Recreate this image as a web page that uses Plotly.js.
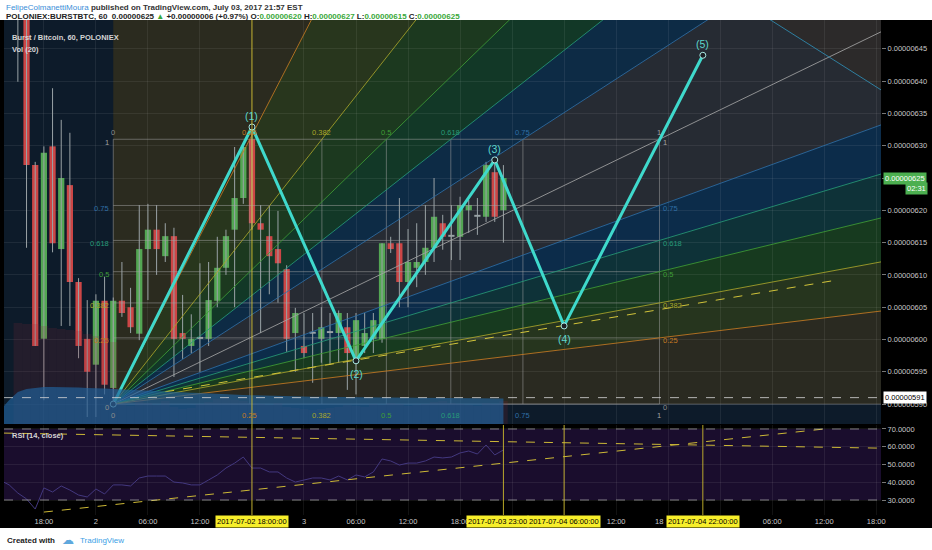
<!DOCTYPE html>
<html>
<head>
<meta charset="utf-8">
<script src="https://cdn.plot.ly/plotly-3.0.1.min.js"></script>
<style>
  html, body { margin: 0; padding: 0; background: #ffffff; }
  #chart { width: 932px; height: 550px; }
</style>
</head>
<body>
<div id="chart"></div>
<script>
// POLONIEX:BURSTBTC, 60 min candles. Prices in satoshi (1e-8 BTC).
// Time is in hours counted from 2017-07-01 00:00.
var firstHour = 15;
var open  = [658, 655, 627.0, 600.1, 629.9, 614.0, 623.9, 608.9, 600.1, 596.1, 606.0, 592.5,
             606.0, 605.0, 600.9, 614.0, 617.0, 612.9, 616.0, 601.0, 599.0, 600.1, 600.1, 606.0,
             611.1, 617.0, 621.9, 631.0, 618.0, 616.0, 614.0, 610.9, 601.0, 599.0, 601.0, 600.1,
             601.0, 601.0, 601.9, 597.1, 599.0, 600.1, 600.1, 614.9, 614.9, 608.9, 611.1, 612.0,
             614.2, 618.0, 615.9, 615.9, 620.0, 619.0, 619.0, 625.9, 620];
var high  = [662, 658, 627.5, 629.9, 638.9, 634.0, 632.0, 609.5, 606.1, 607.0, 609.7, 606.5,
             612.0, 608.0, 620.8, 621.0, 620.8, 618.0, 617.3, 606.9, 603.9, 611.8, 612.0, 615.9,
             617.0, 629.8, 630.2, 632.9, 620.8, 620.7, 619.9, 611.5, 604.9, 604.1, 604.1, 605.0,
             604.1, 604.5, 604.1, 604.1, 604.1, 604.1, 614.9, 615.9, 621.9, 617.1, 618.0, 620.8,
             625.0, 619.3, 620.8, 622.1, 621.6, 621.9, 627.5, 627.8, 627];
var low   = [639.9, 614.2, 599.0, 590.6, 613.5, 602.1, 602.1, 597.1, 588.0, 588.0, 591.5, 590.0,
             603.5, 601.0, 599.9, 606.1, 610.0, 612.0, 594.2, 597.0, 597.9, 595.0, 599.0, 605.0,
             610.0, 605.0, 621.0, 617.0, 601.0, 607.0, 605.7, 598.1, 595.0, 597.1, 593.3, 596.4,
             596.1, 596.4, 592.2, 591.5, 597.9, 597.9, 599.5, 613.4, 605.0, 605.0, 608.1, 610.0,
             612.0, 613.9, 612.3, 612.3, 616.5, 616.2, 618.2, 618.2, 615];
var close = [652, 627.0, 599.0, 628.9, 614.9, 625.0, 608.9, 599.0, 595.0, 606.0, 593.0, 606.0,
             604.1, 601.9, 614.0, 617.0, 614.0, 616.0, 600.1, 600.1, 600.1, 600.3, 606.1, 611.1,
             616.0, 621.9, 629.8, 618.0, 617.0, 612.9, 611.8, 600.1, 604.1, 597.9, 600.9, 601.9,
             601.1, 604.1, 597.9, 603.0, 601.0, 603.0, 614.9, 614.0, 608.9, 612.0, 612.0, 614.2,
             619.0, 615.9, 616.0, 620.8, 620.8, 619.1, 627.0, 619.0, 625];
var volume = [1010, 1000, 1000, 980, 960, 950, 940, 930, 900, 880, 860, 820,
              200, 180, 240, 210, 190, 230, 170, 150, 160, 200, 220, 250, 260, 240, 230, 210,
              200, 190, 210, 170, 160, 150, 140, 150, 160, 170, 190, 180, 170, 200, 190, 210,
              200, 180, 190, 200, 220, 230, 210, 200, 190, 180, 210, 200, 230];

// Vol (20) average and RSI (14, close) start two hours earlier than the first candle shown
var indicatorFirstHour = 13;
var volumeMA = [140, 240, 320, 350, 360, 370, 370, 370, 370, 365, 360, 360, 355, 350, 345, 340,
                335, 330, 325, 320, 318, 315, 312, 310, 305, 300, 298, 295, 290, 288, 285, 283,
                280, 278, 276, 275, 273, 272, 270, 270, 268, 268, 266, 265, 265, 264, 263, 262,
                262, 261, 260, 260, 260, 260, 259, 258, 258, 257, 256];
var rsi = [41, 38.5, 33.9, 30.6, 24.9, 36.8, 34.5, 37.9, 35.6, 32.8, 31.7, 36.2, 33.4, 38.5, 38.5,
           37.9, 42.4, 43.5, 43.5, 43.5, 40.1, 39.6, 38.5, 38.5, 41.3, 44.1, 48.0, 50.8, 54.2, 48.0,
           48.0, 45.8, 45.8, 42.4, 40.1, 41.3, 42.4, 42.4, 41.3, 43.5, 41.3, 44.1, 43.0, 45.8, 53.1,
           52.0, 49.7, 50.8, 50.8, 52.0, 54.2, 53.7, 54.2, 56.5, 57.6, 55.9, 61.0, 55.4, 58.2];

// time axis (labels hidden behind the yellow date boxes are left empty)
var tickHours  = [18, 24, 30, 36, 42, 48, 54, 60, 66, 72, 78, 84, 90, 96, 102, 108, 114];
var tickLabels = ['18:00', '2', '06:00', '12:00', '', '3', '06:00', '12:00', '18:00',
                  '', '', '12:00', '', '', '06:00', '12:00', '18:00'];
var cutTickHour = 90, cutTickLabel = '18';
var priceTicks = [590, 595, 600, 605, 610, 615, 620, 625, 630, 635, 640, 645];
var rsiTicks = [30, 40, 50, 60, 70];

// drawings
var boxHours  = [26, 89];
var boxPrices = [590, 631];
var fibLevels = [0, 0.25, 0.382, 0.5, 0.618, 0.75, 1];
var waveHours  = [26, 42, 54, 70, 78, 94];
var wavePrices = [590, 632.9, 596.7, 627.8, 602.1, 644.0];
var waveLabels = ['', '(1)', '(2)', '(3)', '(4)', '(5)'];
var trendHours = [32, 109];
var trendPrices = [591.9, 609.1];
var fanHours = [100, 114.6];
var fanPrices = [651, 638.6];
var supportPrice = 591;
var rsiTrendAHours = [13.4, 114.6];
var rsiTrendA = [67.7, 59.2];
var rsiTrendBHours = [18, 108];
var rsiTrendB = [23.2, 70];
var markHours  = [42, 71, 78, 94];
var markLabels = ['2017-07-02 18:00:00', '2017-07-03 23:00', '2017-07-04 06:00:00', '2017-07-04 22:00:00'];

var FONT = 'Liberation Sans, Arial, sans-serif';
var UP = '#53a653', DOWN = '#cc4646', WICK = '#9aa3a6';
var levelColor = {'0': '#8d8d8d', '0.25': '#c77b22', '0.382': '#a9a62a', '0.5': '#3f9d36',
                  '0.618': '#279a78', '0.75': '#2f6ea6', '1': '#a3a3a3'};

function fmt(v) { return (v / 1e8).toFixed(8); }

var hours = open.map(function (_, i) { return firstHour + i; });
var indHours = rsi.map(function (_, i) { return indicatorFirstHour + i; });
var n = close.length, last = close[n - 1], prev = close[n - 2];

// wicks
var wx = [], wy = [];
hours.forEach(function (h, i) { wx.push(h, h, null); wy.push(low[i], high[i], null); });

var bodyBase = [], bodyLen = [], bodyColor = [];
hours.forEach(function (h, i) {
  var d = close[i] - open[i];
  bodyBase.push(Math.min(open[i], close[i]));
  bodyLen.push(Math.max(Math.abs(d), 0.3));
  bodyColor.push(Math.abs(d) < 0.3 ? WICK : (d > 0 ? UP : DOWN));
});

// gann fan
var h0 = boxHours[0], h1 = boxHours[1], p0 = boxPrices[0], p1 = boxPrices[1];
var W = h1 - h0, H = p1 - p0, K = 20;
var rayLevels = fibLevels.concat(fibLevels.slice(0, -1).reverse());
var rays = fibLevels.map(function (t) { return [h0 + K * t * W, p0 + K * H]; })
  .concat(fibLevels.slice(0, -1).reverse().map(function (l) { return [h0 + K * W, p0 + K * l * H]; }));
var wedgeColors = ['#2b2b1f', '#28361d', '#1c391f', '#123827', '#0d2b45', '#262b33',
                   '#262b33', '#0c2c4a', '#0e3238', '#173a1f', '#26351e', '#2a2a21'];

var shapes = [
  {type: 'rect', xref: 'paper', yref: 'paper', x0: -4 / 877, x1: 928 / 877, y0: -13 / 495, y1: 1,
   fillcolor: '#000000', line: {width: 0}, layer: 'below'},
  {type: 'rect', xref: 'paper', yref: 'paper', x0: 0, x1: 1, y0: 91 / 495, y1: 1,
   fillcolor: '#0d1b2a', line: {width: 0}, layer: 'below'},
  {type: 'rect', xref: 'paper', yref: 'y2', x0: 0, x1: 1, y0: 30, y1: 70,
   fillcolor: '#1a0d2d', line: {width: 0}, layer: 'below'}
];
for (var i = 0; i < rays.length - 1; i++) {
  shapes.push({type: 'path', xref: 'x', yref: 'y', layer: 'below', fillcolor: wedgeColors[i],
    line: {width: 0},
    path: 'M' + h0 + ',' + p0 + 'L' + rays[i][0] + ',' + rays[i][1] + 'L' + rays[i + 1][0] + ',' + rays[i + 1][1] + 'Z'});
}
// area beyond the second fan line, top right
shapes.push({type: 'path', xref: 'x', yref: 'y', layer: 'below', fillcolor: '#2c2a2a', line: {width: 0},
  path: 'M' + fanHours[0] + ',' + fanPrices[0] + 'L' + fanHours[1] + ',' + fanPrices[1] +
        'L' + fanHours[1] + ',' + (fanPrices[0] + 20) + 'L' + fanHours[0] + ',' + (fanPrices[0] + 20) + 'Z'});
[70, 30].forEach(function (v) {
  shapes.push({type: 'line', xref: 'paper', yref: 'y2', x0: 0, x1: 1, y0: v, y1: v,
    line: {color: 'rgba(200,200,200,0.6)', width: 1, dash: 'dash'}, layer: 'above'});
});
shapes.push({type: 'line', xref: 'paper', yref: 'y', x0: 0, x1: 1, y0: supportPrice, y1: supportPrice,
  line: {color: 'rgba(215,215,215,0.8)', width: 1, dash: 'dash'}, layer: 'above'});
markHours.forEach(function (h, i) {
  shapes.push({type: 'line', xref: 'x', yref: 'paper', x0: h, x1: h, y0: 0, y1: i === 0 ? 1 : 90 / 495,
    line: {color: 'rgba(215,195,45,0.85)', width: 1}, layer: 'above'});
});

var traces = [];

// volume
traces.push({type: 'bar', x: hours, y: volume, yaxis: 'y3', width: 1,
  marker: {color: 'rgba(140,40,55,0.18)', line: {width: 0}}, hoverinfo: 'skip'});
traces.push({type: 'scatter', mode: 'lines', x: indHours, y: volumeMA, yaxis: 'y3',
  fill: 'tozeroy', fillcolor: 'rgba(32,98,155,0.68)', line: {width: 0}, hoverinfo: 'skip'});

// candles
traces.push({type: 'scatter', mode: 'lines', x: wx, y: wy, line: {color: WICK, width: 1}, hoverinfo: 'skip'});
traces.push({type: 'bar', x: hours, base: bodyBase, y: bodyLen, width: 0.72,
  marker: {color: bodyColor, line: {width: 0}}, hoverinfo: 'skip'});

// box grid
var gx = [], gy = [];
fibLevels.forEach(function (l) {
  gx.push(h0, h1, null); gy.push(p0 + l * H, p0 + l * H, null);
  gx.push(h0 + l * W, h0 + l * W, null); gy.push(p0, p1, null);
});
traces.push({type: 'scatter', mode: 'lines', x: gx, y: gy,
  line: {color: 'rgba(165,165,165,0.5)', width: 1}, hoverinfo: 'skip'});

// fan rays
for (var r = 1; r < rays.length; r++) {
  traces.push({type: 'scatter', mode: 'lines', x: [h0, rays[r][0]], y: [p0, rays[r][1]],
    line: {color: levelColor[String(rayLevels[r])], width: 1}, opacity: rayLevels[r] === 0 ? 0.5 : 0.85,
    hoverinfo: 'skip'});
}
traces.push({type: 'scatter', mode: 'lines', x: fanHours, y: fanPrices,
  line: {color: '#2f7fa0', width: 1}, hoverinfo: 'skip'});

// trend line
traces.push({type: 'scatter', mode: 'lines', x: trendHours, y: trendPrices,
  line: {color: '#d2c43a', width: 1, dash: 'dash'}, hoverinfo: 'skip'});

// elliott wave
traces.push({type: 'scatter', mode: 'lines+markers', x: waveHours, y: wavePrices,
  line: {color: '#3fd9cc', width: 3},
  marker: {size: 6, color: '#1c1f24', line: {color: '#a8e8e2', width: 1}}, hoverinfo: 'skip'});

// rsi
traces.push({type: 'scatter', mode: 'lines', x: indHours, y: rsi, yaxis: 'y2',
  line: {color: '#43387f', width: 1}, hoverinfo: 'skip'});
traces.push({type: 'scatter', mode: 'lines', x: rsiTrendAHours, y: rsiTrendA, yaxis: 'y2',
  line: {color: '#cdb936', width: 1, dash: 'dash'}, hoverinfo: 'skip'});
traces.push({type: 'scatter', mode: 'lines', x: rsiTrendBHours, y: rsiTrendB, yaxis: 'y2',
  line: {color: '#cdb936', width: 1, dash: 'dash'}, hoverinfo: 'skip'});

// annotations
var ann = [];
function lbl(text, x, y, opt) {
  var a = {text: text, x: x, y: y, xref: 'x', yref: 'y', showarrow: false,
    font: {family: FONT, size: 7.5, color: '#999'}};
  for (var k in opt) a[k] = opt[k];
  ann.push(a);
}
fibLevels.forEach(function (l) {
  var c = levelColor[String(l)], t = String(l);
  lbl(t, h0 + l * W, p1, {yshift: 7, font: {family: FONT, size: 7.5, color: c}});
  lbl(t, h0 + l * W, p0, {yshift: -11, font: {family: FONT, size: 7.5, color: c}});
  lbl(t, h0, p0 + l * H, {xanchor: 'right', xshift: -2, yshift: -3, font: {family: FONT, size: 7.5, color: c}});
  lbl(t, h1, p0 + l * H, {xanchor: 'left', xshift: 2, yshift: -3, font: {family: FONT, size: 7.5, color: c}});
});
waveLabels.forEach(function (t, i) {
  if (!t) return;
  var up = i % 2 === 1;
  lbl(t, waveHours[i], wavePrices[i], {yshift: up ? 11 : -13,
    font: {family: FONT, size: 10.5, color: '#5ed7cd'}});
});

var chg = last - prev, pct = chg / prev * 100;
var G = '#3aa83a';
function g(s) { return '<span style="color:' + G + '">' + s + '</span>'; }
ann.push({xref: 'paper', yref: 'paper', x: 0, y: (515 - 7) / 495, xanchor: 'left', yanchor: 'middle',
  showarrow: false, font: {family: FONT, size: 8, color: '#333'},
  text: '<span style="color:#3b8ed8">FelipeColmanettiMoura</span> <b>published on TradingView.com, July 03, 2017 21:57 EST</b>'});
ann.push({xref: 'paper', yref: 'paper', x: 0, y: (515 - 16.5) / 495, xanchor: 'left', yanchor: 'middle',
  showarrow: false, font: {family: FONT, size: 8, color: '#222'},
  text: '<b>POLONIEX:BURSTBTC, 60  ' + fmt(last) + ' ' + g('▲') + ' ' + (chg >= 0 ? '+' : '') + fmt(chg) +
        ' (' + (chg >= 0 ? '+' : '') + pct.toFixed(2) + '%) O:' + g(fmt(open[n - 1])) + ' H:' + g(fmt(high[n - 1])) +
        ' L:' + g(fmt(low[n - 1])) + ' C:' + g(fmt(last)) + '</b>'});
ann.push({xref: 'paper', yref: 'paper', x: 6 / 877, y: (515 - 37) / 495, xanchor: 'left', yanchor: 'middle',
  showarrow: false, font: {family: FONT, size: 7.5, color: '#d4d4d4'}, text: '<b>Burst / Bitcoin, 60, POLONIEX</b>'});
ann.push({xref: 'paper', yref: 'paper', x: 6 / 877, y: (515 - 49) / 495, xanchor: 'left', yanchor: 'middle',
  showarrow: false, font: {family: FONT, size: 7.5, color: '#d4d4d4'}, text: '<b>Vol (20)</b>'});
ann.push({xref: 'paper', yref: 'paper', x: 6 / 877, y: (515 - 435) / 495, xanchor: 'left', yanchor: 'middle',
  showarrow: false, font: {family: FONT, size: 7.5, color: '#d4d4d4'}, text: '<b>RSI (14, close)</b>'});

// price scale labels (the last price box covers its own tick label)
ann.push({xref: 'paper', yref: 'y', x: 1.002, y: last, xanchor: 'left', yanchor: 'middle', showarrow: false,
  bgcolor: '#4caf50', borderpad: 1, font: {family: FONT, size: 7.5, color: '#ffffff'}, text: fmt(last)});
ann.push({xref: 'paper', yref: 'y', x: 924 / 877, y: last, yshift: -10, xanchor: 'right', yanchor: 'middle',
  showarrow: false, bgcolor: '#4caf50', borderpad: 1, font: {family: FONT, size: 7.5, color: '#ffffff'}, text: '02:31'});
ann.push({xref: 'paper', yref: 'y', x: 1.002, y: supportPrice, xanchor: 'left', yanchor: 'middle', showarrow: false,
  bgcolor: '#ffffff', borderpad: 1, font: {family: FONT, size: 7.5, color: '#000000'}, text: fmt(supportPrice)});

// time scale labels: the 23:00 box is cut off by the next one, so it ends where that one starts
markHours.forEach(function (h, i) {
  ann.push({xref: 'x', yref: 'paper', x: h, y: (515 - 521.5) / 495, yanchor: 'middle', showarrow: false,
    xshift: i === 1 ? -6 : 0,
    bgcolor: '#f7ee2a', borderpad: 1, font: {family: FONT, size: 7.5, color: '#000000'}, text: markLabels[i]});
});
ann.push({xref: 'x', yref: 'paper', x: cutTickHour, y: (515 - 521.5) / 495, yanchor: 'middle',
  xanchor: 'right', xshift: -3, showarrow: false, font: {family: FONT, size: 7.5, color: '#c8c8c8'},
  text: cutTickLabel});

// footer
ann.push({xref: 'paper', yref: 'paper', x: 1 / 877, y: (515 - 540) / 495, xanchor: 'left', yanchor: 'middle',
  showarrow: false, font: {family: FONT, size: 8, color: '#222'}, text: '<b>Created with</b>'});
ann.push({xref: 'paper', yref: 'paper', x: 56 / 877, y: (515 - 540) / 495, xanchor: 'left', yanchor: 'middle',
  showarrow: false, font: {family: 'DejaVu Sans', size: 12, color: '#5fa8dd'}, text: '☁'});
ann.push({xref: 'paper', yref: 'paper', x: 74 / 877, y: (515 - 540) / 495, xanchor: 'left', yanchor: 'middle',
  showarrow: false, font: {family: FONT, size: 8, color: '#3ba0e6'}, text: 'TradingView'});

var axisFont = {family: FONT, size: 7.5, color: '#c8c8c8'};
var layout = {
  width: 932, height: 550,
  margin: {l: 4, r: 51, t: 20, b: 35},
  paper_bgcolor: '#ffffff',
  plot_bgcolor: 'rgba(0,0,0,0)',
  showlegend: false,
  hovermode: false,
  barmode: 'overlay',
  xaxis: {range: [13.4, 114.55], anchor: 'y2', tickvals: tickHours, ticktext: tickLabels,
    showgrid: true, gridcolor: 'rgba(255,255,255,0.07)', zeroline: false, showline: false,
    ticks: '', tickfont: axisFont},
  yaxis: {domain: [91 / 495, 1], range: [586.92, 649.46], side: 'right', anchor: 'x',
    tickvals: priceTicks, ticktext: priceTicks.map(function (v) { return v === last ? '' : fmt(v); }),
    showgrid: true, gridcolor: 'rgba(255,255,255,0.07)', zeroline: false, ticks: 'outside', ticklen: 4,
    tickcolor: '#777', tickfont: axisFont},
  yaxis2: {domain: [0, 90 / 495], range: [21.55, 72.25], side: 'right', anchor: 'x',
    tickvals: rsiTicks, ticktext: rsiTicks.map(function (v) { return v.toFixed(4); }),
    showgrid: true, gridcolor: 'rgba(255,255,255,0.07)', zeroline: false, ticks: 'outside',
    ticklen: 4, tickcolor: '#777', tickfont: axisFont},
  yaxis3: {overlaying: 'y', range: [0, 4040], visible: false, fixedrange: true},
  shapes: shapes,
  annotations: ann
};

Plotly.newPlot('chart', traces, layout, {staticPlot: true, displayModeBar: false});
</script>
</body>
</html>
